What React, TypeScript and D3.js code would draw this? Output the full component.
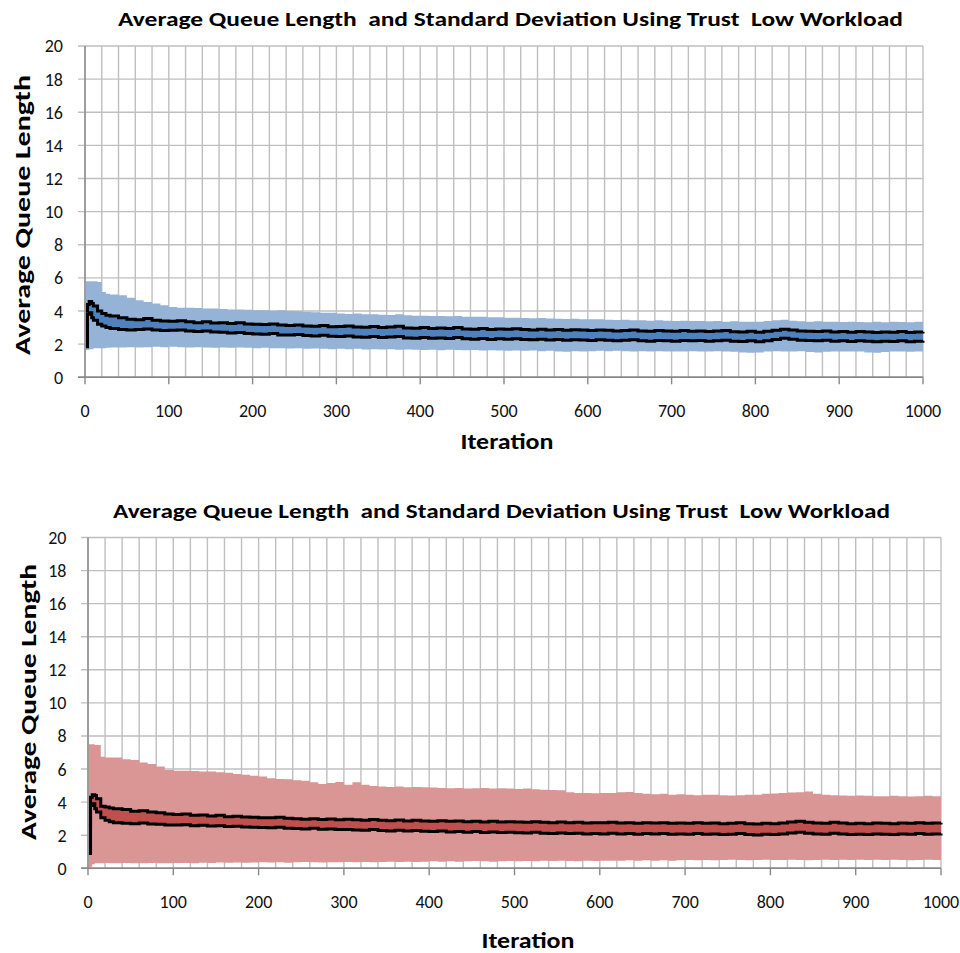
import React from "react";
import * as d3 from "d3";

// iteration grid
const ITER: number[] = [1, 3, 5, 8, 10, 15, 20, 25, ...d3.range(30, 1001, 10)];

// ---- top chart (blue) ----
const TOP_MEAN_HI = [
  4.0, 4.4, 4.57, 4.45, 4.3, 4.0, 3.85, 3.75,
  3.7, 3.6, 3.5, 3.47, 3.55, 3.45, 3.4, 3.38,
  3.42, 3.35, 3.3, 3.36, 3.28, 3.3, 3.25, 3.3, 3.22, 3.2,
  3.18, 3.22, 3.15, 3.12, 3.16, 3.1, 3.08, 3.12, 3.05, 3.06,
  3.1, 3.04, 3.02, 3.06, 3.0, 3.03, 3.08, 2.98, 2.96, 3.0,
  2.95, 2.98, 2.94, 3.0, 2.92, 2.9, 2.95, 2.88, 2.92, 2.9,
  2.93, 2.88, 2.86, 2.9, 2.85, 2.88, 2.84, 2.87, 2.85, 2.82,
  2.86, 2.84, 2.8, 2.83, 2.86, 2.8, 2.78, 2.82, 2.8, 2.78,
  2.82, 2.78, 2.8, 2.76, 2.79, 2.82, 2.75, 2.74, 2.78, 2.72,
  2.78, 2.84, 2.9, 2.86, 2.8, 2.78, 2.76, 2.8, 2.74, 2.76,
  2.72, 2.76, 2.74, 2.7, 2.74, 2.72, 2.76, 2.7, 2.74, 2.75,
];
const TOP_MEAN_LO = [
  1.85, 3.8, 3.9, 3.6, 3.45, 3.2, 3.1, 3.0,
  2.95, 2.88, 2.85, 2.88, 2.92, 2.85, 2.82, 2.84,
  2.86, 2.8, 2.76, 2.8, 2.74, 2.72, 2.68, 2.7, 2.64, 2.62,
  2.6, 2.64, 2.56, 2.55, 2.58, 2.52, 2.5, 2.54, 2.48, 2.46,
  2.5, 2.44, 2.42, 2.46, 2.4, 2.43, 2.47, 2.38, 2.36, 2.4,
  2.35, 2.38, 2.34, 2.4, 2.32, 2.3, 2.34, 2.28, 2.32, 2.3,
  2.32, 2.28, 2.26, 2.3, 2.25, 2.28, 2.24, 2.27, 2.25, 2.22,
  2.26, 2.24, 2.2, 2.23, 2.26, 2.2, 2.18, 2.22, 2.2, 2.18,
  2.22, 2.2, 2.22, 2.18, 2.2, 2.24, 2.18, 2.16, 2.2, 2.15,
  2.2, 2.28, 2.36, 2.3, 2.24, 2.22, 2.2, 2.24, 2.18, 2.2,
  2.16, 2.2, 2.18, 2.15, 2.18, 2.16, 2.2, 2.15, 2.18, 2.2,
];
const TOP_SD_HI = [
  5.8, 5.8, 5.8, 5.8, 5.8, 5.75, 5.15, 5.05,
  5.0, 4.95, 4.8, 4.65, 4.55, 4.45, 4.35, 4.25,
  4.2, 4.2, 4.18, 4.15, 4.15, 4.12, 4.1, 4.1, 4.08, 4.05,
  4.05, 4.02, 4.05, 4.0, 3.98, 3.95, 3.92, 3.9, 3.9, 3.85,
  3.82, 3.85, 3.8, 3.8, 3.78, 3.76, 3.8, 3.75, 3.72, 3.72,
  3.7, 3.7, 3.68, 3.7, 3.66, 3.65, 3.66, 3.62, 3.62, 3.6,
  3.6, 3.58, 3.56, 3.58, 3.55, 3.54, 3.52, 3.54, 3.5, 3.5,
  3.5, 3.48, 3.46, 3.48, 3.45, 3.44, 3.42, 3.44, 3.42, 3.4,
  3.42, 3.4, 3.4, 3.38, 3.4, 3.36, 3.38, 3.35, 3.36, 3.35,
  3.4, 3.45, 3.48, 3.42, 3.38, 3.36, 3.38, 3.35, 3.36, 3.34,
  3.36, 3.34, 3.32, 3.35, 3.33, 3.36, 3.34, 3.32, 3.35, 3.36,
];
const TOP_SD_LO = [
  1.65, 1.65, 1.7, 1.7, 1.75, 1.75, 1.75, 1.78,
  1.8, 1.8, 1.82, 1.8, 1.82, 1.85, 1.82, 1.85,
  1.82, 1.8, 1.82, 1.8, 1.78, 1.8, 1.78, 1.8, 1.78, 1.76,
  1.78, 1.75, 1.76, 1.74, 1.76, 1.72, 1.74, 1.72, 1.7, 1.72,
  1.7, 1.72, 1.68, 1.7, 1.68, 1.7, 1.66, 1.68, 1.66, 1.65,
  1.66, 1.64, 1.66, 1.65, 1.63, 1.65, 1.62, 1.64, 1.62, 1.6,
  1.62, 1.6, 1.62, 1.58, 1.6, 1.56, 1.54, 1.58, 1.56, 1.58,
  1.6, 1.58, 1.6, 1.58, 1.56, 1.58, 1.56, 1.58, 1.56, 1.55,
  1.56, 1.58, 1.56, 1.55, 1.57, 1.55, 1.54, 1.5, 1.48, 1.5,
  1.55, 1.58, 1.56, 1.55, 1.58, 1.52, 1.5, 1.54, 1.56, 1.55,
  1.56, 1.55, 1.5, 1.48, 1.52, 1.55, 1.56, 1.54, 1.55, 1.56,
];

// ---- bottom chart (red) ----
const BOT_MEAN_HI = [
  2.6, 4.3, 4.45, 4.4, 4.2, 3.75, 3.7, 3.65,
  3.6, 3.55, 3.45, 3.48, 3.4, 3.36, 3.28, 3.25,
  3.28, 3.2, 3.22, 3.16, 3.2, 3.12, 3.15, 3.1, 3.08, 3.06,
  3.05, 3.08, 3.02, 3.0, 2.96, 3.0, 2.95, 2.98, 2.94, 2.96,
  2.94, 2.9, 2.95, 2.9, 2.88, 2.92, 2.86, 2.9, 2.86, 2.85,
  2.88, 2.84, 2.86, 2.82, 2.85, 2.8, 2.84, 2.8, 2.82, 2.8,
  2.78, 2.82, 2.78, 2.76, 2.8, 2.76, 2.78, 2.74, 2.76, 2.75,
  2.78, 2.74, 2.76, 2.72, 2.75, 2.74, 2.76, 2.72, 2.74, 2.72,
  2.75, 2.72, 2.74, 2.7, 2.72, 2.75, 2.7, 2.68, 2.72, 2.7,
  2.74, 2.8, 2.84, 2.78, 2.74, 2.72, 2.78, 2.74, 2.7, 2.72,
  2.7, 2.74, 2.72, 2.7, 2.74, 2.72, 2.75, 2.72, 2.74, 2.76,
];
const BOT_MEAN_LO = [
  0.9, 3.8, 3.9, 3.6, 3.4, 3.05, 2.9, 2.82,
  2.75, 2.72, 2.7, 2.74, 2.68, 2.66, 2.62, 2.62,
  2.64, 2.58, 2.6, 2.55, 2.58, 2.52, 2.54, 2.5, 2.48, 2.46,
  2.45, 2.48, 2.42, 2.4, 2.38, 2.42, 2.36, 2.38, 2.34, 2.35,
  2.32, 2.3, 2.34, 2.28, 2.26, 2.3, 2.25, 2.28, 2.24, 2.22,
  2.25, 2.2, 2.22, 2.18, 2.22, 2.16, 2.2, 2.16, 2.18, 2.15,
  2.14, 2.18, 2.12, 2.1, 2.14, 2.1, 2.12, 2.08, 2.1, 2.08,
  2.12, 2.08, 2.1, 2.06, 2.1, 2.08, 2.1, 2.06, 2.08, 2.06,
  2.1, 2.06, 2.08, 2.04, 2.06, 2.1, 2.04, 2.02, 2.06, 2.04,
  2.08, 2.14, 2.18, 2.12, 2.08, 2.06, 2.12, 2.08, 2.04, 2.06,
  2.04, 2.08, 2.06, 2.04, 2.08, 2.06, 2.1, 2.06, 2.08, 2.1,
];
const BOT_SD_HI = [
  7.5, 7.5, 7.5, 7.45, 7.45, 6.75, 6.7, 6.7,
  6.7, 6.6, 6.55, 6.4, 6.3, 6.15, 5.95, 5.9,
  5.9, 5.88, 5.85, 5.85, 5.8, 5.78, 5.7, 5.65, 5.6, 5.55,
  5.45, 5.4, 5.38, 5.32, 5.3, 5.2, 5.1, 5.15, 5.22, 5.05,
  5.2, 5.05, 4.98, 4.95, 4.92, 4.94, 4.9, 4.92, 4.9, 4.88,
  4.85, 4.84, 4.86, 4.82, 4.84, 4.85, 4.82, 4.84, 4.82, 4.8,
  4.82, 4.78, 4.75, 4.74, 4.72, 4.6, 4.56, 4.55, 4.54, 4.55,
  4.55, 4.6, 4.62, 4.55, 4.5, 4.48, 4.5, 4.45, 4.48, 4.45,
  4.42, 4.45, 4.44, 4.42, 4.4, 4.42, 4.44, 4.45, 4.5, 4.52,
  4.55, 4.58, 4.6, 4.65, 4.5, 4.45, 4.42, 4.4, 4.38, 4.4,
  4.38, 4.36, 4.35, 4.38, 4.36, 4.34, 4.36, 4.38, 4.36, 4.4,
];
const BOT_SD_LO = [
  0.0, 0.1, 0.25, 0.3, 0.3, 0.3, 0.32, 0.3,
  0.3, 0.32, 0.3, 0.3, 0.32, 0.3, 0.3, 0.32,
  0.32, 0.3, 0.34, 0.32, 0.35, 0.33, 0.35, 0.34, 0.35, 0.36,
  0.35, 0.36, 0.34, 0.36, 0.38, 0.36, 0.35, 0.37, 0.36, 0.38,
  0.36, 0.38, 0.36, 0.38, 0.4, 0.38, 0.4, 0.38, 0.4, 0.42,
  0.4, 0.42, 0.4, 0.42, 0.44, 0.42, 0.4, 0.42, 0.44, 0.42,
  0.44, 0.42, 0.45, 0.44, 0.46, 0.44, 0.42, 0.45, 0.44, 0.46,
  0.46, 0.45, 0.48, 0.46, 0.48, 0.46, 0.48, 0.46, 0.48, 0.5,
  0.48, 0.5, 0.48, 0.5, 0.52, 0.5, 0.48, 0.5, 0.52, 0.5,
  0.5, 0.52, 0.5, 0.48, 0.5, 0.52, 0.5, 0.52, 0.5, 0.52,
  0.5, 0.52, 0.5, 0.52, 0.5, 0.48, 0.5, 0.52, 0.5, 0.52,
];

const X_TICKS = [0, 100, 200, 300, 400, 500, 600, 700, 800, 900, 1000];
const Y_TICKS = [0, 2, 4, 6, 8, 10, 12, 14, 16, 18, 20];
const TITLE = "Average Queue Length  and Standard Deviation Using Trust  Low Workload";
const Y_LABEL = "Average Queue Length";
const X_LABEL = "Iteration";

const FONT = "Carlito, Calibri, Lato, 'Open Sans', sans-serif";

type ChartProps = {
  x0: number; x1: number; yTop: number; yBot: number;
  sdHi: number[]; sdLo: number[]; meanHi: number[]; meanLo: number[];
  light: string; mid: string;
  titleX: number; titleY: number; titleLen: number;
  ylabX: number; ylabY: number; ylabLen: number;
  xlabX: number; xlabY: number;
  yTickRight: number; xTickY: number;
};

function Chart(p: ChartProps) {
  const x = d3.scaleLinear().domain([0, 1000]).range([p.x0, p.x1]);
  const y = d3.scaleLinear().domain([0, 20]).range([p.yBot, p.yTop]);
  const idx = ITER.map((_, i) => i);
  const area = (hi: number[], lo: number[]) =>
    d3.area<number>()
      .x((i) => x(ITER[i]))
      .y0((i) => y(lo[i]))
      .y1((i) => y(hi[i]))
      .curve(d3.curveStepAfter)(idx) || "";
  const line = (v: number[]) =>
    d3.line<number>()
      .x((i) => x(ITER[i]))
      .y((i) => y(v[i]))
      .curve(d3.curveStepAfter)(idx) || "";
  const vGrid = d3.range(0, 1001, 20);
  const grid = "#BFBFBF";
  const axis = "#888888";
  return (
    <g>
      {vGrid.map((v) => (
        <line key={"v" + v} x1={x(v)} x2={x(v)} y1={p.yTop} y2={p.yBot} stroke={grid} strokeWidth={1.4} />
      ))}
      {Y_TICKS.map((v) => (
        <line key={"h" + v} x1={p.x0 - 7} x2={p.x1} y1={y(v)} y2={y(v)} stroke={v === 0 ? axis : grid} strokeWidth={1.4} />
      ))}
      <path d={area(p.sdHi, p.sdLo)} fill={p.light} />
      <path d={area(p.meanHi, p.meanLo)} fill={p.mid} />
      <path d={line(p.meanHi)} fill="none" stroke="#000" strokeWidth={3} />
      <path d={line(p.meanLo)} fill="none" stroke="#000" strokeWidth={3} />
      <line x1={p.x0} x2={p.x0} y1={p.yTop} y2={p.yBot} stroke={axis} strokeWidth={1.4} />
      <line x1={p.x0 - 7} x2={p.x1} y1={p.yBot} y2={p.yBot} stroke={axis} strokeWidth={1.4} />
      {X_TICKS.map((v) => (
        <line key={"t" + v} x1={x(v)} x2={x(v)} y1={p.yBot} y2={p.yBot + 7} stroke={axis} strokeWidth={1.4} />
      ))}
      {Y_TICKS.map((v) => (
        <text key={"yl" + v} x={p.yTickRight} y={y(v)} dy="0.36em" textAnchor="end" fontSize={18} fontFamily={FONT} fill="#111">
          {v}
        </text>
      ))}
      {X_TICKS.map((v) => (
        <text key={"xl" + v} x={x(v)} y={p.xTickY} textAnchor="middle" fontSize={18} fontFamily={FONT} fill="#111">
          {v}
        </text>
      ))}
      <text x={p.titleX} y={p.titleY} textAnchor="middle" fontSize={21} fontWeight="bold" fontFamily={FONT}
        textLength={p.titleLen} lengthAdjust="spacingAndGlyphs" style={{ whiteSpace: "pre" }} fill="#000">
        {TITLE}
      </text>
      <text transform={`translate(${p.ylabX},${p.ylabY}) rotate(-90)`} textAnchor="middle" fontSize={22} fontWeight="bold"
        fontFamily={FONT} textLength={p.ylabLen} lengthAdjust="spacingAndGlyphs" fill="#000">
        {Y_LABEL}
      </text>
      <text x={p.xlabX} y={p.xlabY} textAnchor="middle" fontSize={22} fontWeight="bold" fontFamily={FONT}
        textLength={93} lengthAdjust="spacingAndGlyphs" fill="#000">
        {X_LABEL}
      </text>
    </g>
  );
}

export default function App() {
  return (
    <svg width={960} height={953} style={{ position: "absolute", left: 0, top: 0, background: "#fff" }}>
      <rect width={960} height={953} fill="#fff" />
      <Chart x0={85} x1={923} yTop={46} yBot={377.3}
        sdHi={TOP_SD_HI} sdLo={TOP_SD_LO} meanHi={TOP_MEAN_HI} meanLo={TOP_MEAN_LO}
        light="#95B3D7" mid="#4F81BD"
        titleX={510.5} titleY={26} titleLen={785}
        ylabX={30} ylabY={215} ylabLen={280}
        xlabX={507} xlabY={449}
        yTickRight={63} xTickY={417} />
      <Chart x0={88} x1={941} yTop={537.5} yBot={868.3}
        sdHi={BOT_SD_HI} sdLo={BOT_SD_LO} meanHi={BOT_MEAN_HI} meanLo={BOT_MEAN_LO}
        light="#D99694" mid="#C0504D"
        titleX={501.5} titleY={518} titleLen={777}
        ylabX={36} ylabY={702} ylabLen={276}
        xlabX={528} xlabY={948}
        yTickRight={66.5} xTickY={908} />
    </svg>
  );
}
